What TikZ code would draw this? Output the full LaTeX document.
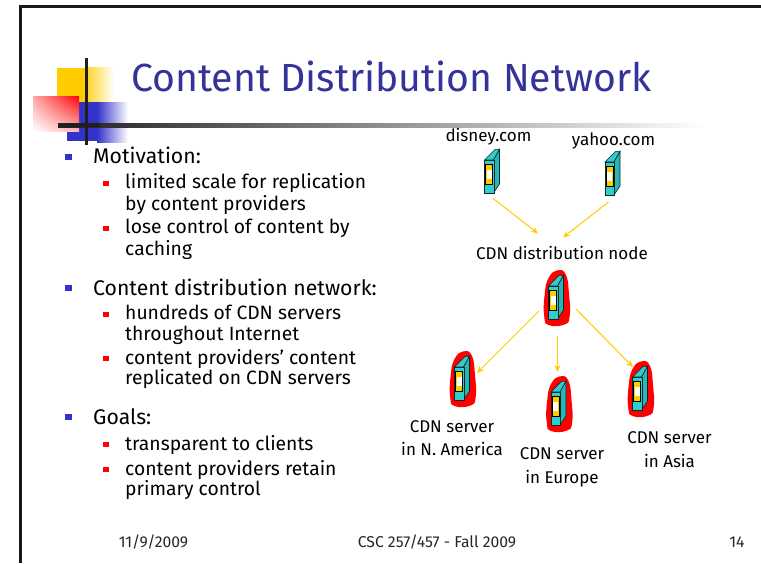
\documentclass[tikz,border=0pt]{standalone}
\usepackage{fontspec}
\setmainfont{Fira Sans}
\usetikzlibrary{arrows.meta,calc,shadings}
\definecolor{titleblue}{HTML}{333399}
\definecolor{bulblue}{HTML}{3333CC}
\definecolor{logoyellow}{HTML}{FFCC00}
\definecolor{teal}{HTML}{33CCCC}
\definecolor{teald}{HTML}{2BB5B5}
\definecolor{arrowy}{HTML}{FFCC00}
\newcommand{\fsz}[1]{\fontsize{#1}{#1}\selectfont}
\tikzset{
  x=1pt,y=-1pt,
  lone/.style={anchor=base west,inner sep=0pt,text=black,font=\fsz{21.2}},
  ltwo/.style={anchor=base west,inner sep=0pt,text=black,font=\fsz{19.3}},
  lab/.style={anchor=base,inner sep=0pt,text=black,font=\fsz{17}},
  foot/.style={anchor=base,inner sep=0pt,text=black!85,font=\fsz{15.7}},
  bulone/.style={fill=bulblue,draw=none},
  bultwo/.style={fill=red,draw=none},
  srvbox/.style={inner sep=0pt,minimum width=16pt,minimum height=44pt},
  conn/.style={draw=arrowy,line width=1pt,-{Stealth[length=7pt,width=6pt]}},
  server/.pic={
    \begin{scope}[shift={(-7.5,-11)},line width=0.6pt,draw=black!80!teal]
    \filldraw[fill=teal] (0,0)--(9,0)--(15,-10.7)--(10.7,-10.7)--cycle;
    \filldraw[fill=teald] (9,0)--(15,-10.7)--(15,24)--(9,33)--cycle;
    \filldraw[fill=teal] (0,0) rectangle (9.5,33);
    \filldraw[fill=logoyellow,draw=black,line width=0.7pt] (1.2,4.2) rectangle (8.2,24);
    \fill[white] (2,9.5) rectangle (7.4,18.5);
    \end{scope}
  },
  blob/.pic={
    \fill[red,shift={(-7.5,-11)}] plot[smooth cycle,tension=0.8] coordinates
      {(9.5,-15.7)(17.5,-11)(20.5,8)(21.2,30)(16,38.5)(0,39)(-4.3,30)(-4,10)(0,-8)};
  }
}
\begin{document}
\begin{tikzpicture}
\useasboundingbox (0,0) rectangle (761,563);
\fill[white] (0,0) rectangle (761,563);
% frame
\draw[line width=2.6pt,draw=black!90] (20.7,563) -- (20.7,6.3) -- (761,6.3);
% logo
\fill[logoyellow] (57,68) rectangle (88,103);
\shade[left color=logoyellow!80,right color=white] (88,67) rectangle (114,103);
\fill[bulblue] (67,102) rectangle (97,141);
\shade[left color=bulblue,right color=white] (97,102) rectangle (128,142);
\shade[shading=bilinear interpolation,lower left=white,upper left=red!35,upper right=red,lower right=red!30] (33,96) rectangle (79,131);
\shade[left color=black!88,right color=white] (58,123) rectangle (705,127);
\fill[black!88] (58,123) rectangle (100,127);
\fill[black!88] (85,58) rectangle (88,145);
% title
\node[anchor=base west,inner sep=0pt,text=titleblue,font=\fsz{39.2}] (title) at (131,91) {Content Distribution Network};
% body
\foreach \y in {157,288,417} \fill[bulone] (65,\y-3) rectangle (72,\y+3);
\foreach \y in {183,228,314,358,444,469} \fill[bultwo] (103,\y-2.5) rectangle (109,\y+2.5);
\node[lone] (t1) at (93,163) {Motivation:};
\node[ltwo] (t2) at (125,188) {limited scale for replication};
\node[ltwo] (t3) at (125,210) {by content providers};
\node[ltwo] (t4) at (125,233) {lose control of content by};
\node[ltwo] (t5) at (125,255) {caching};
\node[lone] (t6) at (93,295) {Content distribution network:};
\node[ltwo] (t7) at (125,319) {hundreds of CDN servers};
\node[ltwo] (t8) at (125,340) {throughout Internet};
\node[ltwo] (t9) at (125,364) {content providers’ content};
\node[ltwo] (t10) at (125,384) {replicated on CDN servers};
\node[lone] (t11) at (93,424) {Goals:};
\node[ltwo] (t12) at (125,450) {transparent to clients};
\node[ltwo] (t13) at (125,475) {content providers retain};
\node[ltwo] (t14) at (125,495) {primary control};
% blobs
\pic at (556,297) {blob};
\pic at (462,378) {blob};
\pic at (558.5,403) {blob};
\pic at (640,388) {blob};
% servers
\node[srvbox] (disney) at (492,171) {};
\node[srvbox] (yahoo) at (612.5,173) {};
\node[srvbox] (dist) at (556,297) {};
\node[srvbox] (namerica) at (462,378) {};
\node[srvbox] (europe) at (558.5,403) {};
\node[srvbox] (asia) at (640,388) {};
\pic at (disney) {server};
\pic at (yahoo) {server};
\pic at (dist) {server};
\pic at (namerica) {server};
\pic at (europe) {server};
\pic at (asia) {server};
% labels
\node[lab] (ldisney) at (488.5,141) {disney.com};
\node[lab] (lyahoo) at (613.5,145) {yahoo.com};
\node[lab] (ldist) at (562,259) {CDN distribution node};
\node[lab] (ln1) at (452,432) {CDN server};
\node[lab] (ln2) at (452,455) {in N. America};
\node[lab] (le1) at (562,459) {CDN server};
\node[lab] (le2) at (562,483) {in Europe};
\node[lab] (la1) at (669.5,443) {CDN server};
\node[lab] (la2) at (669.5,467) {in Asia};
% connectors
\draw[conn] ($(disney)+(0.5,27)$) -- ($(ldist)+(-24,-19)$);
\draw[conn] ($(yahoo)+(-4,29)$) -- ($(ldist)+(1,-15)$);
\draw[conn] ($(dist)+(-17,14)$) -- ($(namerica)+(15,-5)$);
\draw[conn] ($(dist)+(1.5,39)$) -- ($(europe)+(-1,-31)$);
\draw[conn] ($(dist)+(20,12)$) -- ($(asia)+(-7,-21)$);
% footer
\node[foot] (f1) at (153.5,547) {11/9/2009};
\node[foot] (f2) at (437,547) {CSC 257/457 - Fall 2009};
\node[foot] (f3) at (737,547) {14};
\end{tikzpicture}
\end{document}
